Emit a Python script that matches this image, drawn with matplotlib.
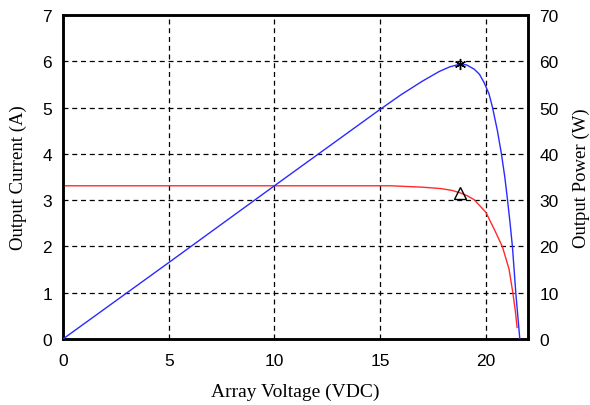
import matplotlib
matplotlib.use("Agg")
import matplotlib.pyplot as plt

# Current (I-V) curve
volt_i = [0, 5, 10, 15, 15.5, 16.5, 17.0, 17.87, 18.4, 18.77, 19.1, 19.45, 20.0, 20.39, 20.79, 21.1, 21.28, 21.4, 21.48]
current = [3.31, 3.31, 3.31, 3.31, 3.31, 3.29, 3.28, 3.25, 3.21, 3.16, 3.10, 3.01, 2.74, 2.38, 1.99, 1.51, 1.00, 0.60, 0.25]

# Power (P-V) curve
volt_p = [0, 5, 10, 15, 16, 17, 17.8, 18.3, 18.8, 19.1, 19.45, 19.7, 19.92, 20.15, 20.32, 20.55, 20.74, 20.9, 21.03, 21.15, 21.26, 21.42, 21.61]
power = [0, 16.5, 33.1, 49.6, 52.8, 55.7, 57.8, 58.8, 59.4, 59.2, 58.3, 57.2, 55.4, 53.0, 50.0, 45.0, 40.0, 35.0, 30.0, 25.0, 20.0, 10.0, 0]

# Maximum power point markers
mpp_v = 18.78
mpp_p = 59.4
mpp_i = 3.16

xticks = [0, 5, 10, 15, 20]
yticks_left = [0, 1, 2, 3, 4, 5, 6, 7]
yticks_right = [0, 10, 20, 30, 40, 50, 60, 70]

tick_font = "Liberation Sans"
label_font = "Liberation Serif"

fig = plt.figure(figsize=(5.9, 4.06), dpi=100)
ax = fig.add_axes([0.1068, 0.1626, 0.7882, 0.798])
ax2 = ax.twinx()

ax.plot(volt_i, current, color="#ff2a2a", lw=1.0, zorder=3)
ax.plot([mpp_v], [mpp_i], marker="^", ms=9, mfc="none", mec="black", mew=1.0, zorder=4)
ax2.plot(volt_p, power, color="#2a2aff", lw=1.0, zorder=3)
ax2.plot([mpp_v], [mpp_p], marker=(6, 2, 0), ms=8, color="black", mew=1.0, zorder=4)

ax.set_xlim(0, 22)
ax.set_ylim(0, 7)
ax2.set_ylim(0, 70)
ax.set_xticks(xticks)
ax.set_yticks(yticks_left)
ax2.set_yticks(yticks_right)

ax.grid(True, color="black", linestyle=(0, (4, 3)), lw=0.9)

for a in (ax, ax2):
    for s in a.spines.values():
        s.set_linewidth(1.8)
    a.tick_params(direction="in", length=0, labelsize=12.5, pad=8)
    for lab in a.get_xticklabels() + a.get_yticklabels():
        lab.set_fontfamily(tick_font)

ax.tick_params(axis="x", pad=10)
ax.set_xlabel("Array Voltage (VDC)", fontfamily=label_font, fontsize=14, labelpad=11)
ax.set_ylabel("Output Current (A)", fontfamily=label_font, fontsize=13.5, labelpad=11)
ax2.set_ylabel("Output Power (W)", fontfamily=label_font, fontsize=13.5, labelpad=10)

fig.savefig("out.png", dpi=100)
